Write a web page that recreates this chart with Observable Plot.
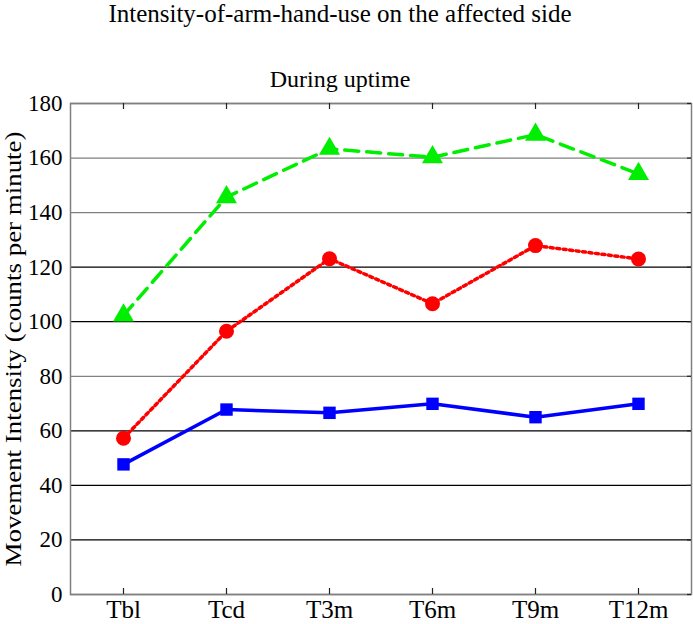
<!DOCTYPE html>
<html>
<head>
<meta charset="utf-8">
<script src="https://cdn.jsdelivr.net/npm/d3@7"></script>
<script src="https://cdn.jsdelivr.net/npm/@observablehq/plot@0.6"></script>
<style>
  body { margin: 0; background: #fff; }
  #wrap { width: 693px; height: 624px; position: relative; overflow: hidden; font-family: "Liberation Serif", "Times New Roman", serif; color: #000; background: #fff; }
  .hd { position: absolute; left: 0; width: 680px; text-align: center; white-space: nowrap; font-size: 25px; line-height: 22px; z-index: 2; }
  #title { top: 0px; padding-top: 3px; }
  #subtitle { top: 68px; font-size: 24px; }
  #chart { position: absolute; left: 0; top: 80px; z-index: 1; }
</style>
</head>
<body>
<div id="wrap">
  <div id="title" class="hd">Intensity-of-arm-hand-use on the affected side</div>
  <div id="subtitle" class="hd">During uptime</div>
  <div id="chart"></div>
</div>
<script>
const categories = ["Tbl", "Tcd", "T3m", "T6m", "T9m", "T12m"];
const yTicks = [0, 20, 40, 60, 80, 100, 120, 140, 160, 180];
const solidSeries = [47.7, 67.8, 66.6, 69.9, 65.0, 69.9];
const dottedSeries = [57.3, 96.5, 123.1, 106.6, 127.9, 123.0];
const dashedSeries = [102.3, 145.7, 163.4, 160.3, 168.6, 154.2];
const grayGridTicks = [0, 80, 140, 160, 180];
const yLabel = "Movement Intensity (counts per minute)";

const rows = vals => categories.map((c, i) => ({cat: c, value: vals[i]}));
const solidRows = rows(solidSeries);
const dottedRows = rows(dottedSeries);
const dashedRows = rows(dashedSeries);

const BLUE = "#0000ff", RED = "#ff0000", GREEN = "#00ee00";

const plot = Plot.plot({
  width: 693,
  height: 544,
  marginTop: 23,
  marginBottom: 30,
  marginLeft: 70,
  marginRight: 2,
  style: {fontFamily: "Liberation Serif, Times New Roman, serif", fontSize: "23px", background: "none", color: "black", overflow: "visible"},
  x: {type: "point", domain: categories, padding: 0.5},
  y: {domain: [0, 180]},
  marks: [
    Plot.ruleY(yTicks, {y: d => d, stroke: d => grayGridTicks.includes(d) ? "#808080" : "#000000", strokeWidth: 1.3}),
    Plot.frame({stroke: "#808080", strokeWidth: 1.5}),
    Plot.tickX(categories, {x: d => d, insetTop: 485, stroke: "#222", strokeWidth: 1.2}),
    Plot.tickX(categories, {x: d => d, insetBottom: 485, stroke: "#222", strokeWidth: 1.2}),
    Plot.tickY(yTicks, {y: d => d, insetLeft: 617, stroke: "#222", strokeWidth: 1.2}),
    Plot.axisX({ticks: categories, tickSize: 0, tickPadding: 6, label: null}),
    Plot.axisY({ticks: yTicks, tickSize: 0, tickPadding: 8, label: yLabel, labelAnchor: "center", labelOffset: 67, labelArrow: "none"}),
    Plot.line(dashedRows, {x: "cat", y: "value", stroke: GREEN, strokeWidth: 3.5, strokeDasharray: "14,8"}),
    Plot.dot(dashedRows, {x: "cat", y: "value", symbol: "triangle", r: 7.8, fill: GREEN, stroke: "none"}),
    Plot.line(dottedRows, {x: "cat", y: "value", stroke: RED, strokeWidth: 3.5, strokeDasharray: "3,3.5"}),
    Plot.dot(dottedRows, {x: "cat", y: "value", symbol: "circle", r: 7.5, fill: RED, stroke: "none"}),
    Plot.line(solidRows, {x: "cat", y: "value", stroke: BLUE, strokeWidth: 3.5}),
    Plot.dot(solidRows, {x: "cat", y: "value", symbol: "square", r: 7, fill: BLUE, stroke: "none"})
  ]
});
document.getElementById("chart").appendChild(plot);

// enlarge the rotated y-axis title to the reference's length
d3.select(plot).selectAll('g[aria-label="y-axis label"] text')
  .attr("font-size", 24)
  .attr("textLength", 435)
  .attr("lengthAdjust", "spacingAndGlyphs");
// slightly larger category labels, as in the reference
d3.select(plot).selectAll('g[aria-label="x-axis tick label"]')
  .attr("font-size", 25);
d3.select(plot).selectAll('g[aria-label="x-axis tick label"] text')
  .attr("font-size", 25);
</script>
</body>
</html>
